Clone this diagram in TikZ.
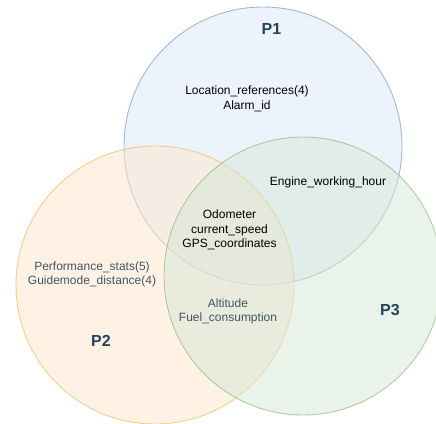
\documentclass[tikz,border=0pt]{standalone}
\usepackage{fontspec}
\setmainfont{Liberation Sans}
\usepackage{xcolor}
\definecolor{blueFill}{HTML}{DAE8FC}
\definecolor{blueLine}{HTML}{6C8EBF}
\definecolor{orangeFill}{HTML}{FFE6CC}
\definecolor{orangeLine}{HTML}{E6B84A}
\definecolor{greenFill}{HTML}{D5E8D4}
\definecolor{greenLine}{HTML}{82B366}
\definecolor{titleBlue}{HTML}{23445D}
\definecolor{grayText}{HTML}{3F5566}
\tikzset{
  setcircle/.style={circle, minimum size=278pt, inner sep=0pt, line width=0.9pt, fill opacity=0.5, draw opacity=0.6},
  settitle/.style={font=\fontsize{16}{18}\selectfont\bfseries, text=titleBlue},
  member/.style={align=center, font=\fontsize{12}{14.5}\selectfont, text=black},
  memberdim/.style={member, text=grayText}
}
\begin{document}
\begin{tikzpicture}[x=1pt, y=-1pt]
    \useasboundingbox (0,0) rectangle (436,423);
    \clip (0,0) rectangle (436,423);
    \fill[white] (0,0) rectangle (436,423);

    % the three sets
    \node (p1) [setcircle, fill=blueFill, draw=blueLine] at (263,146) {};
    \node (p2) [setcircle, fill=orangeFill, draw=orangeLine] at (155,285) {};
    \node (p3) [setcircle, fill=greenFill, draw=greenLine] at (303,276) {};

    % set names
    \node (p1name) [settitle] at (271.5,29) {P1};
    \node (p2name) [settitle] at (101,341) {P2};
    \node (p3name) [settitle] at (390,310) {P3};

    % members
    \node (only1) [member] at (247,99) {Location\_references(4)\\Alarm\_id};
    \node (both13) [member] at (328,182) {Engine\_working\_hour};
    \node (all) [member] at (229.5,230) {Odometer\\current\_speed\\GPS\_coordinates};
    \node (only2) [memberdim] at (92,274.5) {Performance\_stats(5)\\Guidemode\_distance(4)};
    \node (both23) [memberdim] at (228,311.5) {Altitude\\Fuel\_consumption};
\end{tikzpicture}
\end{document}
